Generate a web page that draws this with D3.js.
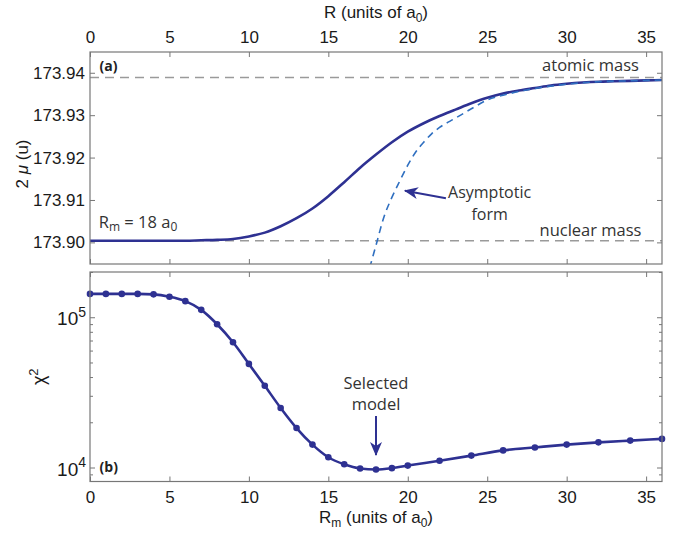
<!DOCTYPE html>
<html>
<head>
<meta charset="utf-8">
<script src="https://cdn.jsdelivr.net/npm/d3@7"></script>
<style>
  body { margin: 0; background: #fff; }
  svg { display: block; }
  .tick text { font-family: "Liberation Sans", Arial, sans-serif; font-size: 17px; fill: #1a1a1a; }
  .note { font-family: "Open Sans", sans-serif; font-size: 16.5px; fill: #333; }
</style>
</head>
<body>
<div id="chart"></div>
<script>
// panel (a): effective mass vs R
const muX = [0, 2, 4, 6, 7, 8, 9, 10, 11, 12, 13, 14, 15, 16, 17, 18, 19, 20, 21, 22, 23, 24, 25, 26, 27, 28, 29, 30, 31, 32, 33, 34, 35, 36];
const muY = [173.9004, 173.9004, 173.9004, 173.9004, 173.9005, 173.9006, 173.9008, 173.9014, 173.9023, 173.9038,
             173.9057, 173.9080, 173.9109, 173.9142, 173.9176, 173.9207, 173.9236, 173.9261, 173.9281, 173.9298,
             173.9313, 173.9328, 173.9341, 173.9351, 173.9358, 173.9364, 173.9370, 173.9374, 173.9377, 173.9379,
             173.9380, 173.9381, 173.9382, 173.9383];

// asymptotic form (dashed)
const asyX = [17.6, 18, 18.5, 19, 19.5, 20, 20.5, 21, 21.5, 22, 23, 24, 25, 26, 27, 28, 30, 32, 34, 36];
const asyY = [173.8940, 173.8993, 173.9060, 173.9106, 173.9145, 173.9182, 173.9213, 173.9236, 173.9256, 173.9271,
              173.9293, 173.9315, 173.9336, 173.9347, 173.9356, 173.9363, 173.9373, 173.9379, 173.9381, 173.9383];

const atomicMass = 173.9389;
const nuclearMass = 173.9004;

// panel (b): chi^2 vs Rm
const rmX = [0, 1, 2, 3, 4, 5, 6, 7, 8, 9, 10, 11, 12, 13, 14, 15, 16, 17, 18, 19, 20, 22, 24, 26, 28, 30, 32, 34, 36];
const chi2 = [1.43e5, 1.43e5, 1.43e5, 1.43e5, 1.42e5, 1.37e5, 1.28e5, 1.12e5, 8.98e4, 6.81e4, 4.89e4, 3.50e4, 2.49e4,
              1.83e4, 1.42e4, 1.17e4, 1.05e4, 9.85e3, 9.7e3, 9.9e3, 1.03e4, 1.11e4, 1.20e4, 1.30e4, 1.36e4, 1.42e4,
              1.47e4, 1.51e4, 1.55e4];

const xTicks = [0, 5, 10, 15, 20, 25, 30, 35];
const muTicks = [173.90, 173.91, 173.92, 173.93, 173.94];
const chiMajor = [1e4, 1e5];
const chiMinor = [9e3, 2e4, 3e4, 4e4, 5e4, 6e4, 7e4, 8e4, 9e4, 2e5];

const W = 677, H = 533;
const left = 90, right = 662;
const topA = 52, botA = 264, topB = 272, botB = 481.5;
const navy = "#2e3192";

const svg = d3.select("#chart").append("svg")
    .attr("width", W)
    .attr("height", H);

const defs = svg.append("defs");
defs.append("marker")
    .attr("id", "head")
    .attr("viewBox", "0 0 14 12")
    .attr("refX", 13)
    .attr("refY", 6)
    .attr("markerWidth", 14)
    .attr("markerHeight", 12)
    .attr("markerUnits", "userSpaceOnUse")
    .attr("orient", "auto")
    .append("path")
    .attr("d", "M0,0 L14,6 L0,12 L4,6 Z")
    .attr("fill", navy);

defs.append("clipPath").attr("id", "clipA")
    .append("rect").attr("x", left).attr("y", topA).attr("width", right - left).attr("height", botA - topA);

const x = d3.scaleLinear().domain([0, 36]).range([left, right]);
const yA = d3.scaleLinear().domain([173.8949, 173.9449]).range([botA, topA]);
const yB = d3.scaleLog().domain([8070, 2.0e5]).range([botB, topB]);

function styleAxis(g) {
    g.select(".domain").remove();
    g.selectAll(".tick line").attr("stroke", "#777").attr("stroke-width", 1);
}

// ---------- panel (a) ----------
svg.append("g")
    .attr("transform", `translate(0,${topA})`)
    .call(d3.axisTop(x).tickValues(xTicks).tickSize(-5).tickPadding(9))
    .call(styleAxis);
svg.append("g")
    .attr("transform", `translate(0,${botA})`)
    .call(d3.axisBottom(x).tickValues(xTicks).tickSize(-5).tickFormat(""))
    .call(styleAxis);
svg.append("g")
    .attr("transform", `translate(${left},0)`)
    .call(d3.axisLeft(yA).tickValues(muTicks).tickSize(-5).tickPadding(5).tickFormat(d3.format(".2f")))
    .call(styleAxis);
svg.append("g")
    .attr("transform", `translate(${right},0)`)
    .call(d3.axisRight(yA).tickValues(muTicks).tickSize(-5).tickFormat(""))
    .call(styleAxis);

const plotA = svg.append("g").attr("clip-path", "url(#clipA)");

[atomicMass, nuclearMass].forEach(v => {
    plotA.append("line")
        .attr("x1", left).attr("x2", right)
        .attr("y1", yA(v)).attr("y2", yA(v))
        .attr("stroke", "#9a9a9a")
        .attr("stroke-width", 1.4)
        .attr("stroke-dasharray", "9,6");
});

const lineA = d3.line()
    .x(d => x(d[0]))
    .y(d => yA(d[1]))
    .curve(d3.curveMonotoneX);

plotA.append("path")
    .datum(muX.map((v, i) => [v, muY[i]]))
    .attr("fill", "none")
    .attr("stroke", navy)
    .attr("stroke-width", 2.6)
    .attr("d", lineA);

plotA.append("path")
    .datum(asyX.map((v, i) => [v, asyY[i]]))
    .attr("fill", "none")
    .attr("stroke", "#2f6fc0")
    .attr("stroke-width", 1.6)
    .attr("stroke-dasharray", "7,5")
    .attr("d", lineA);

svg.append("rect")
    .attr("x", left).attr("y", topA)
    .attr("width", right - left).attr("height", botA - topA)
    .attr("fill", "none").attr("stroke", "#777").attr("stroke-width", 1.2);

// annotations (a)
svg.append("text").attr("class", "note")
    .attr("x", x(0.6)).attr("y", yA(173.9404))
    .style("font-weight", "bold").style("font-size", "14px").style("fill", "#222")
    .text("(a)");

svg.append("text").attr("class", "note")
    .attr("x", x(31.5)).attr("y", yA(173.9404))
    .attr("text-anchor", "middle")
    .text("atomic mass");

svg.append("text").attr("class", "note")
    .attr("x", x(31.5)).attr("y", yA(173.9014))
    .attr("text-anchor", "middle")
    .text("nuclear mass");

const rm = svg.append("text").attr("class", "note")
    .attr("x", x(0.55)).attr("y", yA(173.9035));
rm.append("tspan").text("R");
rm.append("tspan").attr("baseline-shift", "-25%").style("font-size", "12px").text("m");
rm.append("tspan").text(" = 18 a");
rm.append("tspan").attr("baseline-shift", "-25%").style("font-size", "12px").text("0");

svg.append("line")
    .attr("x1", x(22.4)).attr("y1", yA(173.9104))
    .attr("x2", x(19.82)).attr("y2", yA(173.9122))
    .attr("stroke", navy).attr("stroke-width", 2)
    .attr("marker-end", "url(#head)");

svg.append("text").attr("class", "note")
    .attr("x", x(25.15)).attr("y", yA(173.91057))
    .attr("text-anchor", "middle")
    .style("font-size", "16px")
    .text("Asymptotic");
svg.append("text").attr("class", "note")
    .attr("x", x(25.15)).attr("y", yA(173.90538))
    .attr("text-anchor", "middle")
    .style("font-size", "16px")
    .text("form");

// top title
const tTop = svg.append("text")
    .attr("x", (left + right) / 2).attr("y", 18)
    .attr("text-anchor", "middle")
    .style("font-family", "Liberation Sans, Arial, sans-serif")
    .style("font-size", "17px").style("fill", "#1a1a1a");
tTop.append("tspan").text("R (units of a");
tTop.append("tspan").attr("baseline-shift", "-30%").style("font-size", "12px").text("0");
tTop.append("tspan").text(")");

// y title (a)
const yTitleA = svg.append("text")
    .attr("transform", `translate(28,${(topA + botA) / 2 + 6}) rotate(-90)`)
    .attr("text-anchor", "middle")
    .style("font-family", "Liberation Sans, Arial, sans-serif")
    .style("font-size", "17px").style("fill", "#1a1a1a");
yTitleA.append("tspan").text("2 ");
yTitleA.append("tspan").style("font-style", "italic").text("μ");
yTitleA.append("tspan").text(" (u)");

// ---------- panel (b) ----------
const plotB = svg.append("g");

svg.append("g")
    .attr("transform", `translate(0,${botB})`)
    .call(d3.axisBottom(x).tickValues(xTicks).tickSize(-5).tickPadding(9))
    .call(styleAxis);
svg.append("g")
    .attr("transform", `translate(0,${topB})`)
    .call(d3.axisTop(x).tickValues(xTicks).tickSize(-5).tickFormat(""))
    .call(styleAxis);

[["left", left], ["right", right]].forEach(([side, pos]) => {
    const make = side === "left" ? d3.axisLeft : d3.axisRight;
    svg.append("g")
        .attr("transform", `translate(${pos},0)`)
        .call(make(yB).tickValues(chiMinor).tickSize(-3).tickFormat(""))
        .call(styleAxis);
    const major = svg.append("g")
        .attr("transform", `translate(${pos},0)`)
        .call(make(yB).tickValues(chiMajor).tickSize(-5).tickFormat(""))
        .call(styleAxis);
    if (side === "left") {
        major.selectAll(".tick").each(function(d) {
            const t = d3.select(this).append("text")
                .attr("x", -4).attr("dy", "0.4em")
                .attr("text-anchor", "end")
                .style("font-size", "19px");
            t.append("tspan").text("10");
            t.append("tspan").attr("dy", "-0.6em").style("font-size", "14px").text(Math.round(Math.log10(d)));
        });
    }
});

plotB.append("path")
    .datum(rmX.map((v, i) => [v, chi2[i]]))
    .attr("fill", "none")
    .attr("stroke", navy)
    .attr("stroke-width", 2.6)
    .attr("d", d3.line().x(d => x(d[0])).y(d => yB(d[1])).curve(d3.curveMonotoneX));

plotB.selectAll("circle")
    .data(rmX.map((v, i) => [v, chi2[i]]))
    .join("circle")
    .attr("cx", d => x(d[0]))
    .attr("cy", d => yB(d[1]))
    .attr("r", 3.3)
    .attr("fill", navy);

svg.append("rect")
    .attr("x", left).attr("y", topB)
    .attr("width", right - left).attr("height", botB - topB)
    .attr("fill", "none").attr("stroke", "#777").attr("stroke-width", 1.2);

svg.append("text").attr("class", "note")
    .attr("x", x(0.6)).attr("y", yB(9.35e3))
    .style("font-weight", "bold").style("font-size", "14px").style("fill", "#222")
    .text("(b)");

svg.append("text").attr("class", "note")
    .attr("x", x(18)).attr("y", yB(3.35e4))
    .attr("text-anchor", "middle")
    .text("Selected");
svg.append("text").attr("class", "note")
    .attr("x", x(18)).attr("y", yB(2.42e4))
    .attr("text-anchor", "middle")
    .text("model");

svg.append("line")
    .attr("x1", x(18)).attr("y1", yB(2.2e4))
    .attr("x2", x(18)).attr("y2", yB(1.21e4))
    .attr("stroke", navy).attr("stroke-width", 2)
    .attr("marker-end", "url(#head)");

// bottom title
const tBot = svg.append("text")
    .attr("x", (left + right) / 2).attr("y", 523)
    .attr("text-anchor", "middle")
    .style("font-family", "Liberation Sans, Arial, sans-serif")
    .style("font-size", "17px").style("fill", "#1a1a1a");
tBot.append("tspan").text("R");
tBot.append("tspan").attr("baseline-shift", "-30%").style("font-size", "12px").text("m");
tBot.append("tspan").text(" (units of a");
tBot.append("tspan").attr("baseline-shift", "-30%").style("font-size", "12px").text("0");
tBot.append("tspan").text(")");

// y title (b)
const yTitleB = svg.append("text")
    .attr("transform", `translate(45,${(topB + botB) / 2}) rotate(-90)`)
    .attr("text-anchor", "middle")
    .style("font-family", "Liberation Sans, Arial, sans-serif")
    .style("font-size", "18px").style("fill", "#1a1a1a");
yTitleB.append("tspan").text("χ");
yTitleB.append("tspan").attr("dy", "-0.55em").style("font-size", "13px").text("2");
</script>
</body>
</html>
